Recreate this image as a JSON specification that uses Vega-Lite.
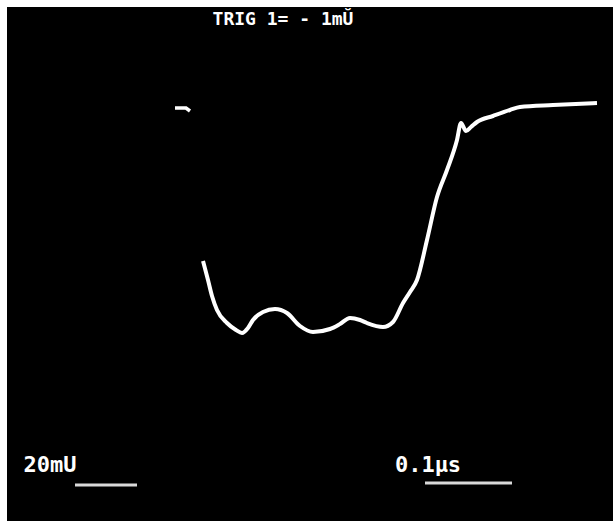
{
  "$schema": "https://vega.github.io/schema/vega-lite/v6.json",
  "width": 606,
  "height": 514,
  "autosize": {"type": "none"},
  "padding": {"left": 7, "top": 7, "right": 0, "bottom": 0},
  "background": "white",
  "config": {"view": {"fill": "black", "stroke": null}},
  "datasets": {
    "trace": [
      {"t": 196, "v": 260}, {"t": 201, "v": 241}, {"t": 205, "v": 225}, {"t": 210, "v": 211},
      {"t": 220, "v": 198}, {"t": 229, "v": 191}, {"t": 235, "v": 188}, {"t": 241, "v": 193},
      {"t": 246, "v": 201}, {"t": 256, "v": 209}, {"t": 268, "v": 212}, {"t": 280, "v": 208},
      {"t": 293, "v": 195}, {"t": 306, "v": 189}, {"t": 323, "v": 192}, {"t": 333, "v": 197},
      {"t": 343, "v": 203}, {"t": 353, "v": 201}, {"t": 360, "v": 198}, {"t": 376, "v": 194},
      {"t": 386, "v": 199}, {"t": 396, "v": 218}, {"t": 403, "v": 229}, {"t": 410, "v": 241},
      {"t": 420, "v": 281}, {"t": 430, "v": 324}, {"t": 440, "v": 351}, {"t": 450, "v": 381},
      {"t": 454, "v": 398}, {"t": 459, "v": 390}, {"t": 464, "v": 394}, {"t": 470, "v": 399},
      {"t": 486, "v": 405}, {"t": 503, "v": 411}, {"t": 513, "v": 414}, {"t": 546, "v": 416},
      {"t": 590, "v": 418}
    ],
    "dash": [
      {"t": 168, "v": 413}, {"t": 179, "v": 413}, {"t": 183, "v": 410}
    ],
    "bars": [
      {"t1": 68, "t2": 130, "v": 36},
      {"t1": 418, "t2": 505, "v": 38}
    ],
    "labels": [
      {"t": 276, "v": 501, "label": "TRIG 1= - 1mŬ", "size": 18},
      {"t": 43, "v": 56, "label": "20mU", "size": 22},
      {"t": 421, "v": 56, "label": "0.1µs", "size": 22}
    ]
  },
  "layer": [
    {
      "data": {"name": "trace"},
      "mark": {"type": "line", "color": "white", "strokeWidth": 4, "interpolate": "monotone"},
      "encoding": {
        "x": {"field": "t", "type": "quantitative", "scale": {"domain": [0, 606], "nice": false, "zero": false}, "axis": null},
        "y": {"field": "v", "type": "quantitative", "scale": {"domain": [0, 514], "nice": false, "zero": false}, "axis": null}
      }
    },
    {
      "data": {"name": "dash"},
      "mark": {"type": "line", "color": "white", "strokeWidth": 3.5},
      "encoding": {
        "x": {"field": "t", "type": "quantitative"},
        "y": {"field": "v", "type": "quantitative"}
      }
    },
    {
      "data": {"name": "bars"},
      "mark": {"type": "rule", "color": "white", "strokeWidth": 3, "opacity": 0.85},
      "encoding": {
        "x": {"field": "t1", "type": "quantitative"},
        "x2": {"field": "t2"},
        "y": {"field": "v", "type": "quantitative"}
      }
    },
    {
      "data": {"name": "labels"},
      "mark": {"type": "text", "color": "white", "font": "DejaVu Sans Mono", "fontWeight": "bold", "align": "center", "baseline": "middle"},
      "encoding": {
        "x": {"field": "t", "type": "quantitative"},
        "y": {"field": "v", "type": "quantitative"},
        "text": {"field": "label"},
        "size": {"field": "size", "type": "quantitative", "scale": null, "legend": null}
      }
    }
  ]
}
